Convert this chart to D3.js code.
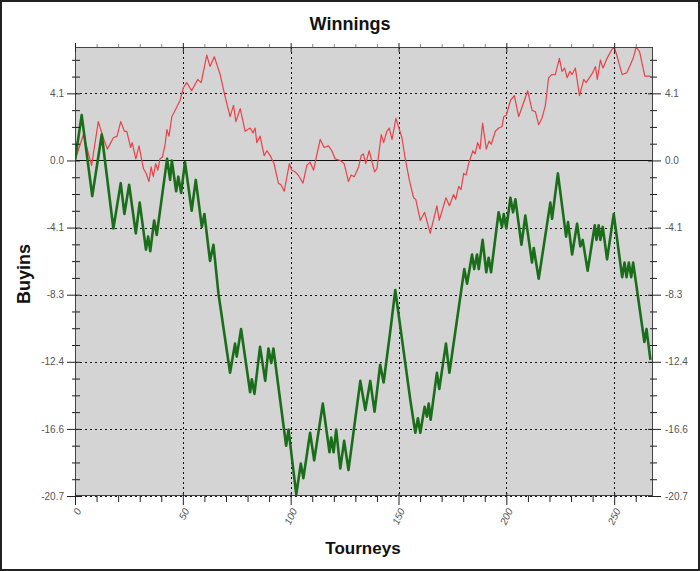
<!DOCTYPE html>
<html>
<head>
<meta charset="utf-8">
<script src="https://cdn.jsdelivr.net/npm/d3@7/dist/d3.min.js"></script>
<style>
  html, body { margin: 0; padding: 0; background: #fff; }
  svg { display: block; }
  text { font-family: "Liberation Sans", Arial, sans-serif; }
</style>
</head>
<body>
<script>
// ---------- data ----------
const chartTitle = "Winnings";
const xTitle = "Tourneys";
const yTitle = "Buyins";

const xMajorTicks = [0, 50, 100, 150, 200, 250];
const xMinorTicks = [10, 20, 30, 40, 60, 70, 80, 90, 110, 120, 130, 140, 160, 170, 180, 190, 210, 220, 230, 240, 260];
const yMajorTicks = [4.14, 0, -4.14, -8.28, -12.42, -16.56, -20.7];
const yTickLabels = ["4.1", "0.0", "-4.1", "-8.3", "-12.4", "-16.6", "-20.7"];

const greenX = [0, 3.1, 8.0, 12.4, 17.8, 21.2, 22.9, 25.1, 28.2, 30.0, 32.9, 33.9, 34.9, 36.7, 37.9, 42.7, 44.1, 44.9, 46.9, 47.9, 49.2, 51.0, 54.1, 56.0, 58.8, 60.0, 62.6, 64.2, 66.5, 71.9, 74.2, 75.0, 77.0, 81.2, 82.0, 83.2, 85.8, 88.2, 89.7, 91.0, 92.0, 97.9, 99.0, 102.6, 104.7, 105.9, 109.0, 110.9, 114.9, 118.0, 118.8, 119.9, 121.1, 123.0, 124.8, 126.8, 132.3, 134.6, 136.9, 138.9, 141.5, 143.1, 146.6, 148.5, 155.5, 157.8, 159.0, 160.1, 162.1, 163.2, 164.0, 164.9, 167.8, 168.9, 172.0, 173.6, 180.5, 181.8, 184.1, 185.1, 186.4, 187.2, 189.0, 190.7, 191.8, 192.9, 196.4, 198.0, 198.8, 200.0, 201.9, 203.1, 204.2, 207.0, 208.8, 211.9, 212.7, 215.0, 220.4, 221.2, 223.9, 227.7, 228.6, 230.5, 232.8, 234.3, 235.4, 237.7, 241.0, 241.8, 242.8, 243.6, 244.7, 246.7, 249.8, 253.7, 254.8, 255.7, 256.8, 257.9, 258.8, 264.0, 265.0, 266.8];
const greenY = [0, 2.8, -2.2, 1.6, -4.2, -1.4, -3.3, -1.5, -4.5, -2.6, -5.5, -4.7, -5.6, -3.7, -4.6, 0.1, -1.2, 0.0, -1.9, -1.0, -2.0, -0.1, -3.1, -1.2, -4.1, -3.3, -6.2, -5.2, -8.2, -13.1, -11.3, -12.1, -10.4, -14.3, -13.5, -14.4, -11.5, -13.6, -11.6, -12.5, -11.6, -17.6, -16.6, -20.6, -18.7, -19.6, -16.8, -18.5, -15.0, -18.0, -17.1, -18.0, -16.6, -19.0, -17.3, -19.1, -13.6, -15.4, -13.6, -15.5, -12.6, -13.7, -10.1, -8.0, -14.8, -16.8, -15.9, -16.8, -15.2, -15.8, -15.0, -16.0, -13.1, -14.1, -11.3, -13.1, -6.7, -7.6, -5.8, -6.7, -5.8, -6.7, -4.9, -6.9, -6.0, -6.9, -3.2, -4.1, -3.3, -4.2, -2.3, -3.2, -2.4, -5.2, -3.4, -6.3, -5.4, -7.3, -2.6, -3.6, -0.8, -4.7, -3.8, -5.8, -3.9, -5.3, -4.9, -6.8, -4.0, -4.9, -4.0, -4.9, -4.1, -6.1, -3.3, -7.2, -6.3, -7.2, -6.3, -7.2, -6.3, -11.2, -10.4, -12.3];

const redX = [0, 3.9, 7.7, 10.8, 13.1, 15.0, 17.8, 19.5, 21.2, 22.9, 24.0, 25.8, 26.5, 28.2, 29.7, 31.7, 33.0, 34.3, 35.3, 36.3, 37.4, 38.4, 39.4, 40.5, 41.8, 42.6, 43.6, 44.9, 47.2, 48.7, 50.3, 51.8, 54.1, 56.9, 58.5, 61.1, 62.6, 64.6, 67.3, 69.5, 71.9, 73.5, 74.6, 76.6, 78.9, 81.2, 82.5, 83.5, 84.3, 85.8, 87.7, 89.0, 90.5, 92.3, 94.3, 95.5, 97.0, 99.4, 100.5, 102.1, 103.5, 105.7, 107.5, 109.0, 110.6, 113.7, 115.5, 117.5, 119.1, 120.6, 123.0, 124.8, 126.8, 128.0, 129.5, 131.5, 132.7, 133.7, 134.8, 136.4, 138.9, 140.0, 142.0, 143.1, 144.6, 145.7, 147.0, 148.8, 151.6, 153.0, 155.0, 157.0, 158.0, 160.1, 162.1, 164.7, 167.8, 168.9, 172.0, 173.6, 175.5, 176.5, 177.9, 179.0, 180.2, 181.3, 182.5, 184.5, 185.5, 186.7, 187.8, 189.0, 190.7, 192.0, 193.0, 194.9, 196.5, 198.0, 198.8, 200.0, 201.9, 203.7, 205.7, 207.3, 209.9, 211.9, 213.5, 215.0, 216.5, 218.1, 219.6, 221.0, 222.7, 224.6, 225.8, 227.0, 228.2, 229.5, 230.5, 232.0, 233.9, 235.9, 237.0, 239.0, 240.0, 241.3, 242.2, 243.6, 244.8, 246.7, 248.7, 249.8, 251.0, 253.7, 255.8, 257.5, 258.8, 260.2, 261.8, 264.2, 266.8];
const redY = [0, 1.6, -0.3, 2.4, 1.4, 0.7, 1.4, 1.5, 2.4, 1.8, 1.8, 0.8, 1.1, 0.1, 0.9, -0.5, -0.8, -1.3, -0.4, -1.0, -0.2, -0.6, 0.1, 0.2, 1.0, 1.9, 1.5, 2.7, 3.3, 3.7, 4.5, 4.8, 4.3, 5.0, 4.8, 6.5, 5.8, 6.4, 5.3, 4.0, 2.7, 3.4, 2.4, 3.2, 1.8, 2.0, 1.7, 2.0, 1.1, 1.5, 0.3, 0.6, 0.3, -0.2, -1.4, -1.5, -1.9, -0.2, -0.6, -0.7, -0.9, -1.4, -0.3, -0.1, -0.6, 1.3, 0.8, 0.9, 0.6, 0.1, 0.0, -0.2, -1.3, -0.9, -1.0, -0.4, 0.3, 0.4, -0.2, 0.6, -0.7, -0.5, 1.6, 1.1, 1.8, 2.0, 1.3, 2.6, 1.4, 0.2, -1.2, -2.3, -2.4, -3.7, -3.2, -4.5, -2.8, -3.7, -2.3, -2.8, -2.1, -2.4, -1.6, -1.8, -0.8, -0.9, -0.2, 0.6, 0.4, 1.1, 0.7, 2.3, 0.7, 1.2, 1.0, 1.8, 2.0, 2.1, 2.7, 2.8, 3.7, 4.0, 2.7, 3.3, 4.3, 3.1, 3.0, 2.2, 2.6, 3.4, 5.1, 5.3, 5.3, 6.3, 5.5, 5.7, 5.1, 5.5, 5.3, 5.7, 4.0, 5.0, 4.8, 5.2, 5.4, 5.8, 5.0, 6.2, 5.7, 6.3, 6.8, 7.0, 6.6, 5.3, 5.4, 5.9, 6.3, 7.0, 6.7, 5.2, 5.2];

// ---------- layout ----------
const W = 700, H = 571;
const plot = { left: 75, right: 653, top: 47, bottom: 496 };

const svg = d3.select("body").append("svg").attr("width", W).attr("height", H);

// outer frame
svg.append("rect").attr("x", 1).attr("y", 1).attr("width", W - 2).attr("height", H - 2)
  .attr("fill", "#fff").attr("stroke", "#222").attr("stroke-width", 2);

const x = d3.scaleLinear().domain([0, 268]).range([plot.left, plot.right]);
const y = d3.scaleLinear().domain([-20.7, 7.0]).range([plot.bottom, plot.top]);

// plot background
svg.append("rect").attr("x", plot.left).attr("y", plot.top)
  .attr("width", plot.right - plot.left).attr("height", plot.bottom - plot.top)
  .attr("fill", "#d4d4d4");

// gridlines
const grid = svg.append("g").attr("stroke", "#111").attr("stroke-width", 1).attr("stroke-dasharray", "2,3");
grid.selectAll("line.h").data(yMajorTicks.filter(v => v !== 0)).join("line")
  .attr("x1", plot.left).attr("x2", plot.right)
  .attr("y1", d => Math.round(y(d)) + 0.5).attr("y2", d => Math.round(y(d)) + 0.5);
grid.selectAll("line.v").data(xMajorTicks.filter(v => v !== 0)).join("line")
  .attr("y1", plot.top).attr("y2", plot.bottom)
  .attr("x1", d => Math.round(x(d)) + 0.5).attr("x2", d => Math.round(x(d)) + 0.5);

// zero line
svg.append("line").attr("x1", plot.left).attr("x2", plot.right)
  .attr("y1", Math.round(y(0)) + 0.5).attr("y2", Math.round(y(0)) + 0.5)
  .attr("stroke", "#111").attr("stroke-width", 1);

// clip
svg.append("clipPath").attr("id", "clip").append("rect")
  .attr("x", plot.left).attr("y", plot.top)
  .attr("width", plot.right - plot.left).attr("height", plot.bottom - plot.top);

const line = d3.line().x(d => x(d[0])).y(d => y(d[1]));

svg.append("path").datum(redX.map((v, i) => [v, redY[i]]))
  .attr("clip-path", "url(#clip)")
  .attr("d", line).attr("fill", "none")
  .attr("stroke", "#e8434a").attr("stroke-width", 1.2).attr("stroke-linejoin", "round");

svg.append("path").datum(greenX.map((v, i) => [v, greenY[i]]))
  .attr("clip-path", "url(#clip)")
  .attr("d", line).attr("fill", "none")
  .attr("stroke", "#1a6e1a").attr("stroke-width", 2.6).attr("stroke-linejoin", "round");

// plot border
svg.append("rect").attr("x", plot.left + 0.5).attr("y", plot.top + 0.5)
  .attr("width", plot.right - plot.left - 1).attr("height", plot.bottom - plot.top - 1)
  .attr("fill", "none").attr("stroke", "#444").attr("stroke-width", 1);

// minor y ticks
const yMinorTicks = d3.range(-20.7, 7.01, 1.035).filter(v => !yMajorTicks.some(m => Math.abs(m - v) < 0.01));

const tickColor = "#222";
// left axis
const leftAx = svg.append("g").attr("transform", `translate(${plot.left},0)`)
  .call(d3.axisLeft(y).tickValues(yMajorTicks).tickSize(8).tickPadding(4).tickFormat((d, i) => yTickLabels[i]));
leftAx.select(".domain").remove();
leftAx.selectAll(".tick line").attr("x2", -8).attr("x1", 5).attr("stroke", tickColor);
leftAx.selectAll(".tick text").attr("font-size", 10).attr("fill", "#555").attr("font-family", "Liberation Sans, Arial, sans-serif").attr("x", -11);
const leftMinor = svg.append("g").attr("transform", `translate(${plot.left},0)`)
  .call(d3.axisLeft(y).tickValues(yMinorTicks).tickSize(3).tickFormat(""));
leftMinor.select(".domain").remove();
leftMinor.selectAll(".tick line").attr("x1", 5).attr("stroke", tickColor);

// right axis
const rightAx = svg.append("g").attr("transform", `translate(${plot.right},0)`)
  .call(d3.axisRight(y).tickValues(yMajorTicks).tickSize(8).tickPadding(4).tickFormat((d, i) => yTickLabels[i]));
rightAx.select(".domain").remove();
rightAx.selectAll(".tick line").attr("x1", -5).attr("x2", 8).attr("stroke", tickColor);
rightAx.selectAll(".tick text").attr("font-size", 10).attr("fill", "#555").attr("font-family", "Liberation Sans, Arial, sans-serif").attr("x", 12);
const rightMinor = svg.append("g").attr("transform", `translate(${plot.right},0)`)
  .call(d3.axisRight(y).tickValues(yMinorTicks).tickSize(4).tickFormat(""));
rightMinor.select(".domain").remove();
rightMinor.selectAll(".tick line").attr("x1", -3).attr("stroke", tickColor);

// bottom axis
const bottomAx = svg.append("g").attr("transform", `translate(0,${plot.bottom})`)
  .call(d3.axisBottom(x).tickValues(xMajorTicks).tickSize(9).tickFormat(d3.format("d")));
bottomAx.select(".domain").remove();
bottomAx.selectAll(".tick line").attr("y1", -3).attr("stroke", tickColor);
bottomAx.selectAll(".tick text")
  .attr("font-size", 10).attr("fill", "#555").attr("font-family", "Liberation Sans, Arial, sans-serif")
  .attr("font-style", "italic")
  .attr("y", 0).attr("dy", "0.35em")
  .attr("text-anchor", "end")
  .attr("transform", "translate(3,13) rotate(-65)");
const bottomMinor = svg.append("g").attr("transform", `translate(0,${plot.bottom})`)
  .call(d3.axisBottom(x).tickValues(xMinorTicks).tickSize(6).tickFormat(""));
bottomMinor.select(".domain").remove();
bottomMinor.selectAll(".tick line").attr("stroke", tickColor);

// top axis
const topAx = svg.append("g").attr("transform", `translate(0,${plot.top})`)
  .call(d3.axisTop(x).tickValues(xMajorTicks).tickSize(4).tickFormat(""));
topAx.select(".domain").remove();
topAx.selectAll(".tick line").attr("y1", 5).attr("stroke", tickColor);
const topMinor = svg.append("g").attr("transform", `translate(0,${plot.top})`)
  .call(d3.axisTop(x).tickValues(xMinorTicks).tickSize(3).tickFormat(""));
topMinor.select(".domain").remove();
topMinor.selectAll(".tick line").attr("stroke", "#888");

// titles
svg.append("text").attr("x", 350).attr("y", 30).attr("text-anchor", "middle")
  .attr("font-size", 18).attr("font-weight", "bold").attr("fill", "#111").text(chartTitle);
svg.append("text").attr("x", 363).attr("y", 554).attr("text-anchor", "middle")
  .attr("font-size", 17).attr("font-weight", "bold").attr("fill", "#111").text(xTitle);
svg.append("text").attr("transform", "translate(30,274) rotate(-90)").attr("text-anchor", "middle")
  .attr("font-size", 18).attr("font-weight", "bold").attr("fill", "#111").text(yTitle);
</script>
</body>
</html>
